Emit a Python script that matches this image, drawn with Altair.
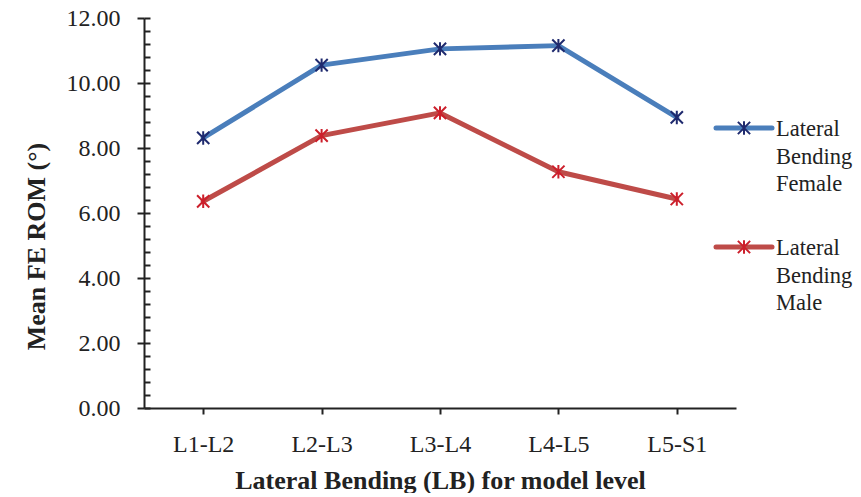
import altair as alt
import pandas as pd

levels = ["L1-L2", "L2-L3", "L3-L4", "L4-L5", "L5-S1"]
female = [8.31, 10.55, 11.05, 11.15, 8.94]
male = [6.36, 8.38, 9.08, 7.27, 6.43]
series_names = ["Lateral Bending Female", "Lateral Bending Male"]
major_ticks = [0, 2, 4, 6, 8, 10, 12]
minor_ticks = [round(i * 0.4, 1) for i in range(31)]

rows = []
for s, vals in zip(series_names, [female, male]):
    for lv, v in zip(levels, vals):
        rows.append({"level": lv, "value": v, "series": s, "series_m": s})
df = pd.DataFrame(rows)

legend_df = pd.DataFrame({
    "series": series_names,
    "series_m": series_names,
    "label": [s.split(" ") for s in series_names],
})

FONT = "Liberation Serif"
AXC = "#222222"
line_colors = ["#4A7EBB", "#BE4B48"]
marker_colors = ["#1F2A6E", "#CC1F2B"]
star = "M-1,-1L1,1M-1,1L1,-1M0,-1.1L0,1.1"

W, H = 592, 390

color_scale = alt.Scale(domain=series_names, range=line_colors)
stroke_scale = alt.Scale(domain=series_names, range=marker_colors)
shape_scale = alt.Scale(domain=series_names, range=[star, star])
y_scale = alt.Scale(domain=[0, 12], nice=False, zero=True)
leg_y = alt.Y("series:N", scale=alt.Scale(type="point", padding=0, domain=series_names, range=[110, 229]), axis=None)

x_enc = alt.X(
    "level:N",
    sort=levels,
    scale=alt.Scale(type="point", padding=0.5),
    axis=alt.Axis(
        title="Lateral Bending (LB) for model level",
        titleFont=FONT, titleFontSize=26, titleFontWeight="bold", titleColor=AXC,
        titleBaseline="alphabetic", titleY=80,
        labelFont=FONT, labelFontSize=24, labelColor=AXC, labelAngle=0,
        labelPadding=18, tickSize=6, tickWidth=2, tickColor=AXC,
        domainColor=AXC, domainWidth=2, grid=False,
    ),
)

lines = alt.Chart(df).mark_line(strokeWidth=5, strokeJoin="round", strokeCap="round").encode(
    x=x_enc,
    y=alt.Y(
        "value:Q",
        scale=y_scale,
        axis=alt.Axis(
            title="Mean FE ROM (°)", values=major_ticks, format=".2f",
            titleFont=FONT, titleFontSize=26, titleFontWeight="bold", titleColor=AXC,
            titleAngle=270, titleBaseline="middle", titleX=-108, titleY=228,
            labelFont=FONT, labelFontSize=24, labelColor=AXC, labelPadding=17,
            tickSize=7, tickWidth=2, tickColor=AXC,
            domainColor=AXC, domainWidth=2, grid=False,
        ),
    ),
    color=alt.Color("series:N", scale=color_scale, legend=None),
)

points = alt.Chart(df).mark_point(filled=False, size=150, strokeWidth=2, opacity=1).encode(
    x=x_enc,
    y=alt.Y(
        "value:Q",
        scale=y_scale,
        axis=alt.Axis(
            orient="right", offset=-W, values=minor_ticks, labels=False, domain=False,
            title=None, tickSize=6, tickWidth=2, tickColor=AXC, grid=False,
        ),
    ),
    shape=alt.Shape("series_m:N", scale=shape_scale, legend=None),
    stroke=alt.Stroke("series_m:N", scale=stroke_scale, legend=None),
)

leg_line = alt.Chart(legend_df).mark_rule(strokeWidth=5, strokeCap="round").encode(
    x=alt.value(572), x2=alt.value(628), y=leg_y,
    color=alt.Color("series:N", scale=color_scale, legend=None),
)
leg_pt = alt.Chart(legend_df).mark_point(filled=False, size=150, strokeWidth=2, opacity=1).encode(
    x=alt.value(600), y=leg_y,
    shape=alt.Shape("series_m:N", scale=shape_scale, legend=None),
    stroke=alt.Stroke("series_m:N", scale=stroke_scale, legend=None),
)
leg_txt = alt.Chart(legend_df).mark_text(
    align="left", baseline="alphabetic", dy=8, lineHeight=27.5,
    font=FONT, fontSize=22.5, color=AXC,
).encode(x=alt.value(632), y=leg_y, text="label")

chart = (
    alt.layer(lines, points, leg_line, leg_pt, leg_txt)
    .resolve_scale(y="independent")
    .resolve_axis(y="independent")
    .properties(
        width=W, height=H,
        autosize=alt.AutoSizeParams(type="none"),
        padding={"left": 136, "top": 10, "right": 117, "bottom": 85},
        background="white",
    )
    .configure_view(stroke=None)
)

chart.save("out.html", embed_options={"renderer": "svg", "actions": False})
